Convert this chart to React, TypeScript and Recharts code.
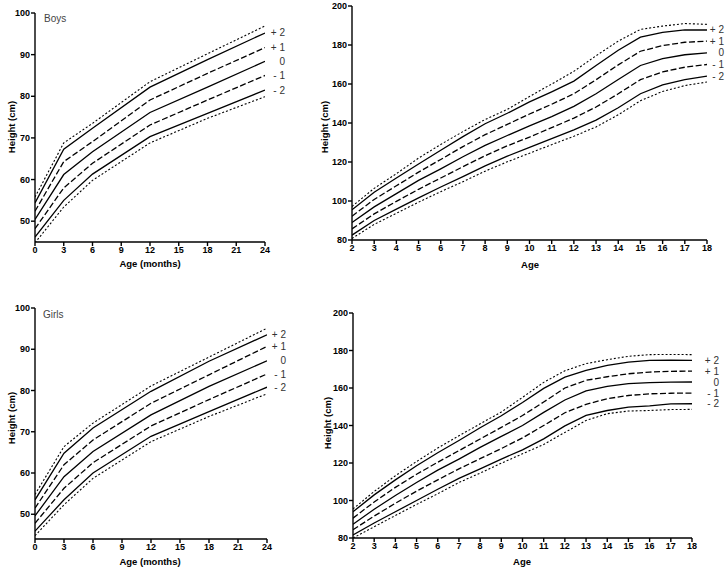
import React from 'react';
import { LineChart, Line, XAxis, YAxis, LabelList } from 'recharts';

// ---------- Data ----------
const infantAges = [0, 3, 6, 12, 18, 24];
const boysInfHi = [55.8, 68.8, 73.5, 83.5, 90.2, 96.9];
const boysInfP2 = [54.4, 67.3, 72.3, 82.2, 88.8, 95.2];
const boysInfP1 = [52.4, 64.3, 69.1, 79.1, 85.5, 91.7];
const boysInfM = [50.4, 61.2, 66.7, 76.1, 82.2, 88.4];
const boysInfM1 = [48.2, 58.0, 63.9, 73.1, 79.1, 85.0];
const boysInfM2 = [46.2, 55.0, 61.3, 70.3, 75.9, 81.5];
const boysInfLo = [44.8, 53.4, 59.8, 68.8, 74.7, 79.9];

const girlsInfHi = [54.8, 66.4, 72.1, 81.1, 88.1, 95.1];
const girlsInfP2 = [53.5, 64.8, 70.9, 79.8, 87.1, 93.5];
const girlsInfP1 = [51.5, 62.0, 68.0, 76.9, 83.8, 90.7];
const girlsInfM = [49.6, 59.1, 65.2, 74.1, 81.0, 87.2];
const girlsInfM1 = [47.8, 56.3, 62.5, 71.4, 77.8, 84.0];
const girlsInfM2 = [45.9, 53.5, 60.0, 68.9, 74.9, 80.8];
const girlsInfLo = [44.8, 52.3, 58.7, 67.6, 73.7, 79.2];

const childAges = [2, 3, 4, 5, 6, 7, 8, 9, 10, 11, 12, 13, 14, 15, 16, 17, 18];
const boysChHi = [97.2, 106.5, 114.0, 122.0, 129.0, 135.6, 141.8, 147.0, 153.6, 160.0, 166.5, 174.5, 182.0, 188.0, 189.7, 191.0, 190.6];
const boysChP2 = [95.5, 104.5, 111.8, 119.0, 126.0, 133.0, 139.6, 145.0, 150.8, 156.0, 161.5, 169.5, 177.3, 184.0, 186.5, 187.8, 187.7];
const boysChP1 = [92.2, 100.8, 107.8, 114.8, 121.3, 127.9, 134.0, 139.3, 144.6, 149.6, 155.0, 162.2, 169.8, 176.8, 179.7, 181.4, 182.0];
const boysChM = [89.0, 97.0, 103.8, 110.6, 116.5, 122.7, 128.5, 133.6, 138.5, 143.3, 148.5, 155.0, 162.3, 169.5, 173.0, 175.0, 176.0];
const boysChM1 = [85.7, 93.4, 99.8, 106.0, 111.8, 117.6, 123.2, 128.3, 132.8, 137.6, 142.5, 148.2, 155.0, 162.2, 166.2, 168.6, 170.0];
const boysChM2 = [82.5, 90.0, 95.8, 101.6, 107.2, 112.5, 118.0, 123.0, 127.5, 132.0, 136.5, 141.5, 147.8, 155.0, 159.5, 162.3, 164.0];
const boysChLo = [80.8, 88.0, 93.7, 99.4, 104.8, 109.9, 115.3, 120.1, 124.5, 128.9, 133.2, 138.0, 144.2, 151.4, 156.2, 159.2, 161.0];

const girlsChHi = [95.5, 104.8, 113.2, 120.8, 128.0, 134.5, 140.9, 147.2, 155.0, 163.0, 169.2, 173.0, 175.1, 176.9, 177.8, 177.9, 177.8];
const girlsChP2 = [94.0, 103.0, 111.0, 118.5, 125.5, 132.0, 138.8, 145.2, 152.3, 159.8, 165.8, 169.4, 172.1, 173.8, 174.7, 174.8, 174.7];
const girlsChP1 = [90.6, 99.2, 107.0, 114.0, 120.4, 126.6, 132.8, 139.0, 145.3, 152.5, 160.0, 164.1, 166.0, 167.6, 168.5, 168.9, 169.0];
const girlsChM = [87.3, 95.3, 102.7, 109.6, 116.2, 122.1, 128.3, 134.2, 140.0, 147.0, 153.6, 158.5, 160.9, 162.3, 162.9, 163.1, 163.2];
const girlsChM1 = [84.4, 91.7, 98.5, 105.0, 111.0, 116.9, 122.3, 127.7, 133.4, 140.0, 146.8, 151.3, 154.3, 156.0, 156.9, 157.2, 157.3];
const girlsChM2 = [81.6, 88.0, 94.0, 100.0, 106.0, 111.8, 116.9, 122.1, 127.0, 132.9, 139.8, 145.4, 148.0, 149.8, 150.5, 151.5, 151.6];
const girlsChLo = [80.0, 86.0, 92.0, 97.9, 103.6, 109.6, 114.6, 119.9, 124.9, 129.9, 136.3, 142.7, 146.3, 147.7, 148.0, 148.5, 148.6];

const infantTicks = [0, 3, 6, 9, 12, 15, 18, 21, 24];
const childTicks = [2, 3, 4, 5, 6, 7, 8, 9, 10, 11, 12, 13, 14, 15, 16, 17, 18];
const infantYTicks = [50, 60, 70, 80, 90, 100];
const childYTicks = [80, 100, 120, 140, 160, 180, 200];

const seriesLabels = ['+ 2', '+ 1', '0', '- 1', '- 2'];

// ---------- Helpers ----------
type Arrs = { hi: number[]; p2: number[]; p1: number[]; m: number[]; m1: number[]; m2: number[]; lo: number[] };
function buildRows(ages: number[], s: Arrs) {
  return ages.map((a, i) => ({
    age: a,
    hi: s.hi[i],
    p2: s.p2[i],
    p1: s.p1[i],
    m: s.m[i],
    m1: s.m1[i],
    m2: s.m2[i],
    lo: s.lo[i],
  }));
}

const boysInfRows = buildRows(infantAges, { hi: boysInfHi, p2: boysInfP2, p1: boysInfP1, m: boysInfM, m1: boysInfM1, m2: boysInfM2, lo: boysInfLo });
const girlsInfRows = buildRows(infantAges, { hi: girlsInfHi, p2: girlsInfP2, p1: girlsInfP1, m: girlsInfM, m1: girlsInfM1, m2: girlsInfM2, lo: girlsInfLo });
const boysChRows = buildRows(childAges, { hi: boysChHi, p2: boysChP2, p1: boysChP1, m: boysChM, m1: boysChM1, m2: boysChM2, lo: boysChLo });
const girlsChRows = buildRows(childAges, { hi: girlsChHi, p2: girlsChP2, p1: girlsChP1, m: girlsChM, m1: girlsChM1, m2: girlsChM2, lo: girlsChLo });

const FONT = '"Liberation Sans", Arial, Helvetica, sans-serif';

const SERIES: { key: string; dash?: string; label: string | null }[] = [
  { key: 'hi', dash: '2 2', label: null },
  { key: 'p2', label: seriesLabels[0] },
  { key: 'p1', dash: '6 2.5', label: seriesLabels[1] },
  { key: 'm', label: seriesLabels[2] },
  { key: 'm1', dash: '6 2.5', label: seriesLabels[3] },
  { key: 'm2', label: seriesLabels[4] },
  { key: 'lo', dash: '2 2', label: null },
];

type PanelProps = {
  left: number;
  top: number;
  width: number;
  height: number;
  margin: { top: number; right: number; bottom: number; left: number };
  data: any[];
  xDomain: [number, number];
  xTicks: number[];
  yDomain: [number, number];
  yTicks: number[];
  labelDx: number;
};

function Panel(p: PanelProps) {
  const lastIndex = p.data.length - 1;
  const axisStyle = { stroke: '#000', strokeWidth: 1.4 };
  const tickStyle = { fontSize: 9, fontWeight: 700, fill: '#000', fontFamily: FONT };
  return (
    <div style={{ position: 'absolute', left: p.left, top: p.top }}>
      <LineChart width={p.width} height={p.height} data={p.data} margin={p.margin}>
        <XAxis
          type="number"
          dataKey="age"
          domain={p.xDomain}
          ticks={p.xTicks}
          interval={0}
          allowDataOverflow
          height={30}
          tickSize={4}
          tickMargin={1}
          axisLine={axisStyle}
          tickLine={axisStyle}
          tick={tickStyle}
        />
        <YAxis
          type="number"
          domain={p.yDomain}
          ticks={p.yTicks}
          interval={0}
          allowDataOverflow
          width={35}
          tickSize={4}
          tickMargin={1}
          axisLine={axisStyle}
          tickLine={axisStyle}
          tick={tickStyle}
        />
        {SERIES.map((s) => (
          <Line
            key={s.key}
            type="linear"
            dataKey={s.key}
            stroke="#000"
            strokeWidth={s.dash === '2 2' ? 1.1 : 1.3}
            strokeDasharray={s.dash}
            dot={false}
            activeDot={false}
            isAnimationActive={false}
          >
            {s.label !== null && (
              <LabelList
                dataKey={s.key}
                content={(lp: any) =>
                  lp.index === lastIndex ? (
                    <text
                      x={Number(lp.x) + p.labelDx}
                      y={Number(lp.y)}
                      dy={3.5}
                      textAnchor="end"
                      fontSize={10}
                      fill="#333"
                      fontFamily={FONT}
                    >
                      {s.label}
                    </text>
                  ) : null
                }
              />
            )}
          </Line>
        ))}
      </LineChart>
    </div>
  );
}

export default function App() {
  return (
    <div style={{ position: 'absolute', left: 0, top: 0, width: 728, height: 570, background: '#fff', fontFamily: FONT }}>
      <Panel
        left={0}
        top={0}
        width={300}
        height={280}
        margin={{ top: 13, right: 35, bottom: 8, left: 0 }}
        data={boysInfRows}
        xDomain={[0, 24]}
        xTicks={infantTicks}
        yDomain={[45, 100]}
        yTicks={infantYTicks}
        labelDx={20}
      />
      <Panel
        left={310}
        top={0}
        width={418}
        height={280}
        margin={{ top: 6, right: 21, bottom: 10, left: 7 }}
        data={boysChRows}
        xDomain={[2, 18]}
        xTicks={childTicks}
        yDomain={[80, 200]}
        yTicks={childYTicks}
        labelDx={17}
      />
      <Panel
        left={0}
        top={290}
        width={300}
        height={280}
        margin={{ top: 18, right: 33, bottom: 1, left: 0 }}
        data={girlsInfRows}
        xDomain={[0, 24]}
        xTicks={infantTicks}
        yDomain={[44, 100]}
        yTicks={infantYTicks}
        labelDx={19}
      />
      <Panel
        left={310}
        top={290}
        width={418}
        height={280}
        margin={{ top: 23, right: 36, bottom: 2, left: 8 }}
        data={girlsChRows}
        xDomain={[2, 18]}
        xTicks={childTicks}
        yDomain={[80, 200]}
        yTicks={childYTicks}
        labelDx={27}
      />
      <svg
        width={728}
        height={570}
        style={{ position: 'absolute', left: 0, top: 0, pointerEvents: 'none' }}
      >
        <text x={44} y={22} fontSize={10} fill="#444" fontFamily={FONT}>Boys</text>
        <text x={43} y={318} fontSize={10} fill="#444" fontFamily={FONT}>Girls</text>
        <text transform="translate(15,127) rotate(-90)" textAnchor="middle" fontSize={9.5} fontWeight={700} fill="#000" fontFamily={FONT}>Height (cm)</text>
        <text transform="translate(328,127) rotate(-90)" textAnchor="middle" fontSize={9.5} fontWeight={700} fill="#000" fontFamily={FONT}>Height (cm)</text>
        <text transform="translate(15,418) rotate(-90)" textAnchor="middle" fontSize={9.5} fontWeight={700} fill="#000" fontFamily={FONT}>Height (cm)</text>
        <text transform="translate(331,423) rotate(-90)" textAnchor="middle" fontSize={9.5} fontWeight={700} fill="#000" fontFamily={FONT}>Height (cm)</text>
        <text x={150} y={267} textAnchor="middle" fontSize={9.5} fontWeight={700} fill="#000" fontFamily={FONT}>Age (months)</text>
        <text x={150} y={565} textAnchor="middle" fontSize={9.5} fontWeight={700} fill="#000" fontFamily={FONT}>Age (months)</text>
        <text x={530} y={268} textAnchor="middle" fontSize={9.5} fontWeight={700} fill="#000" fontFamily={FONT}>Age</text>
        <text x={522} y={565} textAnchor="middle" fontSize={9.5} fontWeight={700} fill="#000" fontFamily={FONT}>Age</text>
      </svg>
    </div>
  );
}
